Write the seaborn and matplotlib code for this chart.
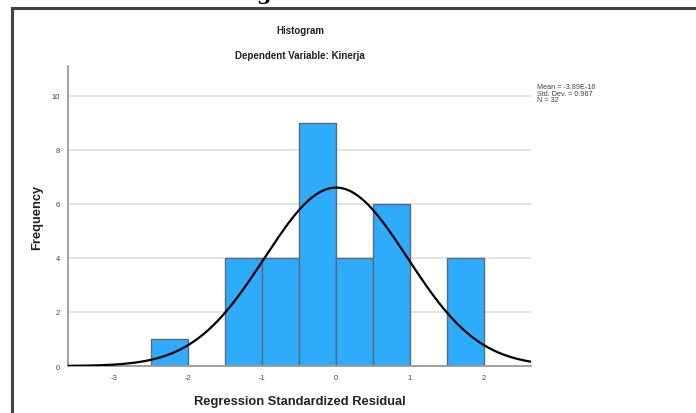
import numpy as np
import matplotlib
matplotlib.use("Agg")
import matplotlib.pyplot as plt
import seaborn as sns
import pandas as pd
from matplotlib.lines import Line2D

# ---- data ----
bin_centers = [-2.25, -1.25, -0.75, -0.25, 0.25, 0.75, 1.75]
bin_counts = [1, 4, 4, 9, 4, 6, 4]
bin_edges = [-2.5, -2.0, -1.5, -1.0, -0.5, 0.0, 0.5, 1.0, 1.5, 2.0]
mean_val = -3.89e-16
std_val = 0.967
n_val = 32
x_ticks = [-3, -2, -1, 0, 1, 2]
y_ticks = [0, 2, 4, 6, 8, 10]

title1 = "Histogram"
title2 = "Dependent Variable: Kinerja"
xlabel = "Regression Standardized Residual"
ylabel = "Frequency"
stats_text = "Mean = -3.89E-16\nStd. Dev. = 0.967\nN = 32"

sns.set_style("white")
plt.rcParams['font.family'] = ['Liberation Sans', 'DejaVu Sans']
plt.rcParams['axes.unicode_minus'] = False

W, H = 696, 414
fig = plt.figure(figsize=(W / 100, H / 100), dpi=100)
ax = fig.add_axes([68 / W, 1 - 367 / H, (531 - 68) / W, (367 - 67) / H])

df = pd.DataFrame({"x": bin_centers, "w": bin_counts})
sns.histplot(data=df, x="x", weights="w", bins=bin_edges, ax=ax,
             color="#2EABFB", alpha=1.0, edgecolor="#5a6a78", linewidth=1.0,
             zorder=2)

xlim = (-3.63, 2.64)
ax.set_xlim(*xlim)
ax.set_ylim(0, 11.1)

# gridlines
for yv in y_ticks[1:]:
    ax.axhline(yv, color="#e3e3e3", lw=1.4, zorder=0)

# normal curve
xs = np.linspace(xlim[0], xlim[1], 400)
binw = bin_edges[1] - bin_edges[0]
ys = n_val * binw / (std_val * np.sqrt(2 * np.pi)) * np.exp(-0.5 * ((xs - mean_val) / std_val) ** 2)
sns.lineplot(x=xs, y=ys, ax=ax, color="black", lw=1.6, zorder=3)

ax.set_xticks(x_ticks)
ax.set_yticks(y_ticks)
ax.tick_params(axis="both", length=0, labelsize=5.5, labelcolor="#444444", pad=6)
for s in ["top", "right"]:
    ax.spines[s].set_visible(False)
for s in ["left", "bottom"]:
    ax.spines[s].set_color("#9a9a9a")
    ax.spines[s].set_linewidth(1.3)

ax.set_xlabel("")
ax.set_ylabel("")
fig.text(300 / W, 1 - 402 / H, xlabel, ha="center", va="center",
         fontsize=9.3, fontweight="bold", color="#222222")
fig.text(37 / W, 1 - 217 / H, ylabel, ha="center", va="center", rotation=90,
         fontsize=9.3, fontweight="bold", color="#222222")

fig.text(300 / W, 1 - 31 / H, title1, ha="center", va="center",
         fontsize=7, fontweight="bold", color="#222222")
fig.text(300 / W, 1 - 56 / H, title2, ha="center", va="center",
         fontsize=7, fontweight="bold", color="#222222")
fig.text(537 / W, 1 - 84 / H, stats_text, ha="left", va="top",
         fontsize=5.2, color="#444444", linespacing=0.95)

# document frame
fig.add_artist(Line2D([12 / W, 12 / W], [0, 1 - 9 / H], transform=fig.transFigure,
                      color="#444444", lw=2.2, solid_capstyle="projecting"))
fig.add_artist(Line2D([12 / W, 1], [1 - 9 / H, 1 - 9 / H], transform=fig.transFigure,
                      color="#444444", lw=2.2, solid_capstyle="projecting"))
# partial caption glyph cut at the top edge
fig.text(263 / W, 1 - 0.5 / H, "g", ha="center", va="baseline",
         fontsize=15, fontweight="bold", family="DejaVu Serif", color="black")

fig.savefig("out.png", dpi=100)
